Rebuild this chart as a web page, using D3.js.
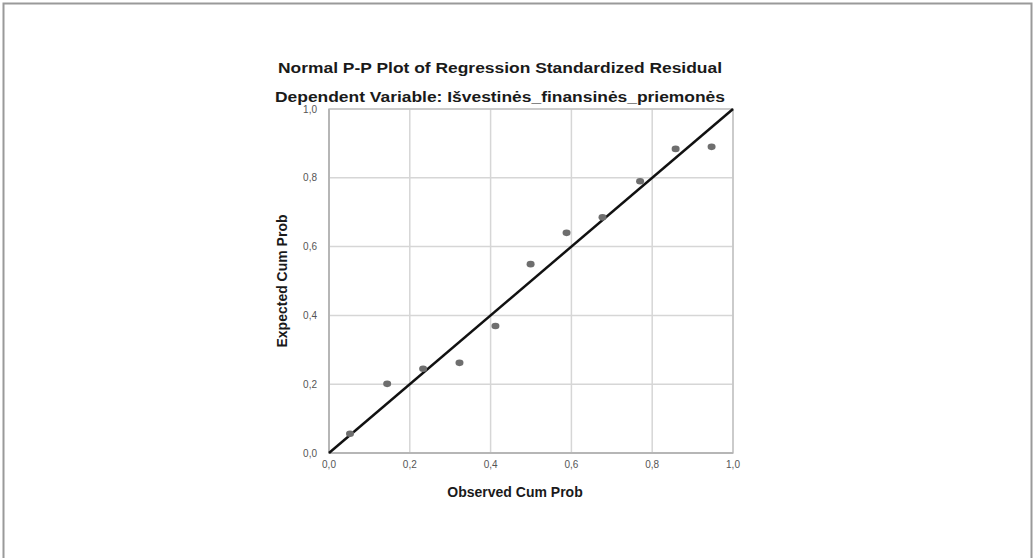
<!DOCTYPE html>
<html>
<head>
<meta charset="utf-8">
<script src="https://cdn.jsdelivr.net/npm/d3@7"></script>
<style>
  body { margin: 0; background: #fff; }
  svg { display: block; }
  text { font-family: "Liberation Sans", Arial, sans-serif; }
</style>
</head>
<body>
<div class="display"></div>
<script>
//observed and expected cumulative probabilities
const observed = [0.052, 0.144, 0.233, 0.323, 0.412, 0.499, 0.588, 0.677, 0.770, 0.858, 0.947];
const expected = [0.056, 0.201, 0.245, 0.262, 0.369, 0.549, 0.640, 0.685, 0.790, 0.884, 0.890];
const tickValues = [0, 0.2, 0.4, 0.6, 0.8, 1.0];
const titleLines = [
  "Normal P-P Plot of Regression Standardized Residual",
  "Dependent Variable: Išvestinės_finansinės_priemonės"
];

const width = 1035, height = 558;
const margin = { top: 109, left: 329 };
const innerWidth = 404, innerHeight = 344;

const svg = d3.select(".display")
  .append("svg")
  .attr("width", width)
  .attr("height", height);

//outer frame of the figure
svg.append("path")
  .attr("d", `M3.5,${height} V3.5 H1031.5 V${height}`)
  .attr("fill", "none")
  .attr("stroke", "#9a9a9a")
  .attr("stroke-width", 2);

//titles
svg.selectAll(".title")
  .data(titleLines)
  .enter()
  .append("text")
  .attr("class", "title")
  .attr("x", 500)
  .attr("y", (d, i) => 73 + i * 29)
  .attr("text-anchor", "middle")
  .attr("textLength", (d, i) => i === 0 ? 444 : 450)
  .attr("lengthAdjust", "spacingAndGlyphs")
  .style("font-weight", "bold")
  .style("font-size", "14px")
  .style("fill", "#1a1a1a")
  .text(d => d);

const xScale = d3.scaleLinear().domain([0, 1]).range([0, innerWidth]);
const yScale = d3.scaleLinear().domain([0, 1]).range([innerHeight, 0]);

const g = svg.append("g")
  .attr("transform", `translate(${margin.left},${margin.top})`);

//grid lines
g.selectAll(".vgrid")
  .data(tickValues)
  .enter()
  .append("line")
  .attr("class", "vgrid")
  .attr("x1", d => xScale(d))
  .attr("x2", d => xScale(d))
  .attr("y1", 0)
  .attr("y2", innerHeight)
  .attr("stroke", "#d6d6d6")
  .attr("stroke-width", 1.5);

g.selectAll(".hgrid")
  .data(tickValues)
  .enter()
  .append("line")
  .attr("class", "hgrid")
  .attr("x1", 0)
  .attr("x2", innerWidth)
  .attr("y1", d => yScale(d))
  .attr("y2", d => yScale(d))
  .attr("stroke", "#d6d6d6")
  .attr("stroke-width", 1.5);

//plot frame
g.append("rect")
  .attr("width", innerWidth)
  .attr("height", innerHeight)
  .attr("fill", "none")
  .attr("stroke", "#c4c4c4")
  .attr("stroke-width", 1.5);

//left and bottom axis lines
g.append("path")
  .attr("d", `M0,0 V${innerHeight} H${innerWidth}`)
  .attr("fill", "none")
  .attr("stroke", "#b0b0b0")
  .attr("stroke-width", 1.5);

const fmt = d => d3.format(".1f")(d).replace(".", ",");

//tick labels
g.selectAll(".xtick")
  .data(tickValues)
  .enter()
  .append("text")
  .attr("class", "xtick")
  .attr("x", d => xScale(d))
  .attr("y", innerHeight + 15)
  .attr("text-anchor", "middle")
  .style("font-size", "10px")
  .style("fill", "#555")
  .text(fmt);

g.selectAll(".ytick")
  .data(tickValues)
  .enter()
  .append("text")
  .attr("class", "ytick")
  .attr("x", -12)
  .attr("y", d => yScale(d) + 3.5)
  .attr("text-anchor", "end")
  .style("font-size", "10px")
  .style("fill", "#555")
  .text(fmt);

//axis labels
g.append("text")
  .attr("x", 186)
  .attr("y", innerHeight + 44)
  .attr("text-anchor", "middle")
  .style("font-weight", "bold")
  .style("font-size", "14px")
  .style("fill", "#1a1a1a")
  .text("Observed Cum Prob");

g.append("text")
  .attr("transform", `translate(-42,${innerHeight / 2}) rotate(-90)`)
  .attr("text-anchor", "middle")
  .style("font-weight", "bold")
  .style("font-size", "14px")
  .style("fill", "#1a1a1a")
  .text("Expected Cum Prob");

//reference diagonal
g.append("line")
  .attr("x1", xScale(0))
  .attr("y1", yScale(0))
  .attr("x2", xScale(1))
  .attr("y2", yScale(1))
  .attr("stroke", "#111")
  .attr("stroke-width", 2.5);

//points
g.selectAll(".dot")
  .data(observed)
  .enter()
  .append("ellipse")
  .attr("class", "dot")
  .attr("cx", d => xScale(d))
  .attr("cy", (d, i) => yScale(expected[i]))
  .attr("rx", 4)
  .attr("ry", 3.3)
  .attr("fill", "#6e6e6e");
</script>
</body>
</html>
